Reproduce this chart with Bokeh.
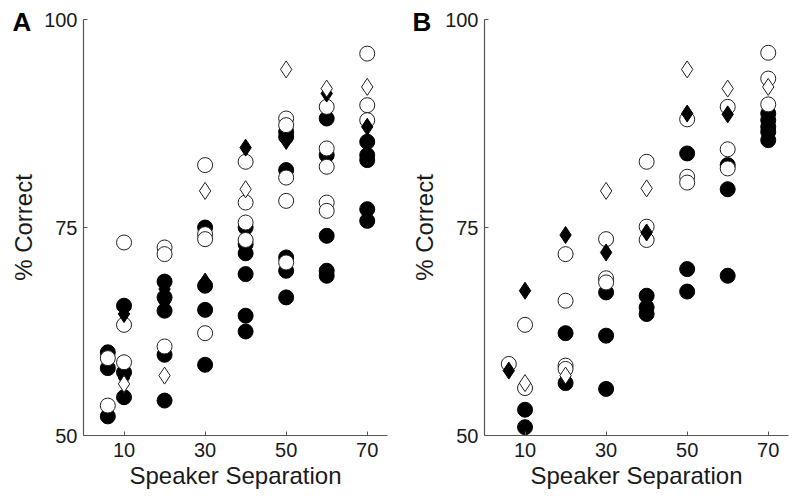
from bokeh.plotting import figure
from bokeh.layouts import row
from bokeh.models import Range1d, FixedTicker, Label
from bokeh.embed import file_html
from bokeh.resources import INLINE

# ---------------- data ----------------
x_ticks = [10, 30, 50, 70]
y_ticks = [50, 75, 100]
x_label = "Speaker Separation"
y_label = "% Correct"

# Panel A
a_fc_x = [6, 6, 6, 10, 10, 10, 20, 20, 20, 20, 20, 30, 30, 30, 30, 40, 40, 40, 40, 40, 40,
          50, 50, 50, 50, 50, 50, 60, 60, 60, 60, 60, 70, 70, 70, 70, 70]
a_fc_y = [60.0, 58.1, 52.3, 65.6, 57.6, 54.6, 68.5, 66.6, 65.0, 59.7, 54.2, 75.0, 68.0, 65.1, 58.5,
          75.0, 73.0, 71.9, 69.4, 64.4, 62.5, 86.5, 85.9, 81.9, 71.4, 69.8, 66.6,
          88.1, 83.7, 74.0, 69.8, 69.2, 85.3, 83.7, 83.1, 77.2, 75.8]
a_oc_x = [6, 6, 10, 10, 10, 20, 20, 20, 30, 30, 30, 30, 40, 40, 40, 40,
          50, 50, 50, 50, 50, 60, 60, 60, 60, 60, 70, 70, 70]
a_oc_y = [59.3, 53.6, 73.2, 63.3, 58.8, 72.6, 71.8, 60.7, 82.5, 74.2, 73.6, 62.3, 82.9, 78.0, 75.6, 73.5,
          88.1, 87.3, 81.0, 78.2, 70.8, 89.5, 84.5, 82.3, 78.0, 77.0, 95.9, 89.7, 87.9]
a_fd_x = [10, 10, 20, 20, 30, 40, 50, 60, 70]
a_fd_y = [64.6, 56.9, 67.6, 66.0, 68.5, 84.6, 85.4, 91.1, 87.1]
a_od_x = [10, 20, 30, 40, 50, 60, 70]
a_od_y = [56.2, 57.2, 79.4, 79.6, 94.0, 91.7, 91.9]

# Panel B
b_fc_x = [10, 10, 20, 20, 30, 30, 30, 40, 40, 40, 50, 50, 50, 60, 60, 60, 70, 70, 70, 70, 70]
b_fc_y = [53.1, 51.0, 62.3, 56.3, 67.2, 62.0, 55.6, 66.8, 65.4, 64.6, 83.9, 70.0, 67.3,
          82.5, 79.6, 69.2, 88.7, 87.9, 87.1, 86.5, 85.5]
b_oc_x = [6, 10, 10, 20, 20, 20, 20, 30, 30, 30, 40, 40, 40, 50, 50, 50, 60, 60, 60, 70, 70, 70]
b_oc_y = [58.6, 63.3, 55.7, 71.8, 66.2, 58.4, 58.0, 73.6, 68.9, 68.4, 82.9, 75.1, 73.5,
          88.0, 81.1, 80.4, 89.5, 84.4, 82.1, 96.0, 92.9, 89.8]
b_fd_x = [6, 10, 20, 30, 40, 50, 60]
b_fd_y = [57.8, 67.4, 74.1, 72.0, 74.4, 88.7, 88.6]
b_od_x = [10, 20, 30, 40, 50, 60, 70]
b_od_y = [56.3, 57.2, 79.4, 79.7, 94.0, 91.7, 91.9]

FONT = "Liberation Sans"
AXIS_COLOR = "#555555"
TEXT_COLOR = "#1a1a1a"
CIRCLE_SIZE = 15
DIAMOND_SIZE = 17

W, H = 400, 504
PX_X = 304 / 75.0      # pixels per x unit
PX_Y = 416 / 50.0      # pixels per y unit
TOP_PX, BOTTOM_PX = 19, 69


def make_panel(letter, fc, oc, fd, od, axis_px):
    x0 = -axis_px / PX_X
    x1 = (W - axis_px) / PX_X
    y1 = 100 + TOP_PX / PX_Y
    y0 = 50 - BOTTOM_PX / PX_Y
    p = figure(width=W, height=H, output_backend="svg", toolbar_location=None,
               x_range=Range1d(x0, x1), y_range=Range1d(y0, y1),
               min_border_left=0, min_border_right=0,
               min_border_top=0, min_border_bottom=0)
    p.outline_line_color = None
    p.grid.grid_line_color = None
    p.background_fill_color = "white"
    p.border_fill_color = "white"

    for ax in (p.xaxis, p.yaxis):
        ax.axis_line_color = AXIS_COLOR
        ax.axis_line_width = 1.2
        ax.major_tick_line_color = AXIS_COLOR
        ax.major_tick_in = 4
        ax.major_tick_out = 0
        ax.minor_tick_line_color = None
        ax.major_label_text_font = FONT
        ax.major_label_text_font_size = "20px"
        ax.major_label_text_color = TEXT_COLOR
        ax.axis_label_text_font = FONT
        ax.axis_label_text_font_size = "24px"
        ax.axis_label_text_font_style = "normal"
        ax.axis_label_text_color = TEXT_COLOR

    p.xaxis.ticker = FixedTicker(ticks=x_ticks)
    p.yaxis.ticker = FixedTicker(ticks=y_ticks)
    p.xaxis.axis_label = x_label
    p.yaxis.axis_label = y_label
    p.xaxis.fixed_location = 50
    p.yaxis.fixed_location = 0
    p.xaxis.bounds = (0, 75)
    p.yaxis.bounds = (50, 100)
    p.xaxis.major_label_standoff = 7
    p.yaxis.major_label_standoff = 6
    p.xaxis.axis_label_standoff = 2
    p.yaxis.axis_label_standoff = 4

    p.scatter(fc[0], fc[1], marker="circle", size=CIRCLE_SIZE,
              fill_color="black", line_color="black", line_width=1)
    p.scatter(oc[0], oc[1], marker="circle", size=CIRCLE_SIZE,
              fill_color="white", line_color="#222222", line_width=1)
    p.scatter(fd[0], fd[1], marker="diamond", size=DIAMOND_SIZE,
              fill_color="black", line_color="black", line_width=1)
    p.scatter(od[0], od[1], marker="diamond", size=DIAMOND_SIZE,
              fill_color="white", line_color="#222222", line_width=1)

    lab = Label(x=x0 + 12 / PX_X, y=y1 - 21 / PX_Y, x_units="data", y_units="data",
                text=letter, text_font=FONT, text_font_size="26px",
                text_font_style="bold", text_color="black",
                text_align="left", text_baseline="alphabetic")
    p.add_layout(lab)
    return p


pa = make_panel("A", (a_fc_x, a_fc_y), (a_oc_x, a_oc_y), (a_fd_x, a_fd_y), (a_od_x, a_od_y), 83)
pb = make_panel("B", (b_fc_x, b_fc_y), (b_oc_x, b_oc_y), (b_fd_x, b_fd_y), (b_od_x, b_od_y), 84)

layout = row(pa, pb)
open("out.html", "w").write(file_html(layout, INLINE))
